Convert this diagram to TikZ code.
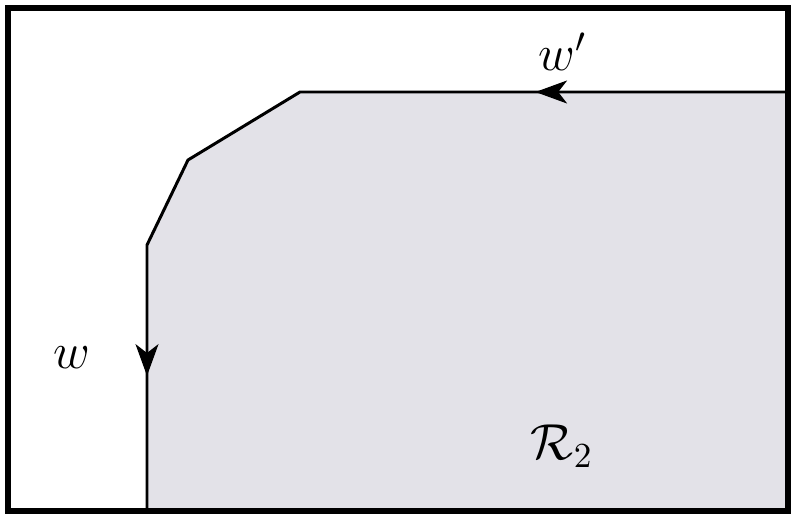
\documentclass[tikz,border=0pt]{standalone}
\usepackage{amsmath}
\usetikzlibrary{decorations.markings,arrows.meta}

\begin{document}
\begin{tikzpicture}[x=0.01cm,y=-0.01cm,>={Stealth[length=9pt,width=6.5pt,inset=2.5pt]}]
        % bounding box and frame
        \useasboundingbox (0,0) rectangle (796,518);
        % the shaded region
        \fill[fill={rgb,255:red,227;green,226;blue,232}]
            (147,511) -- (147,245) -- (188,160) -- (300,92) -- (788,92) -- (788,511) -- cycle;
        % boundary with the arrows
        \draw[line width=0.85pt,line join=round,
              postaction={decorate},
              decoration={markings,
                  mark=at position 0.258 with {\arrow{>}},
                  mark=at position 0.862 with {\arrow{>}}}]
            (788,92) -- (300,92) -- (188,160) -- (147,245) -- (147,511);
        \draw[line width=1.6pt] (8,8) rectangle (788,511);

        % labels
        \node at (563,52) {\Large $w'$};
        \node at (72,358) {\Large $w$};
        \node at (562,446) {\Large $\mathcal{R}_2$};
\end{tikzpicture}
\end{document}
